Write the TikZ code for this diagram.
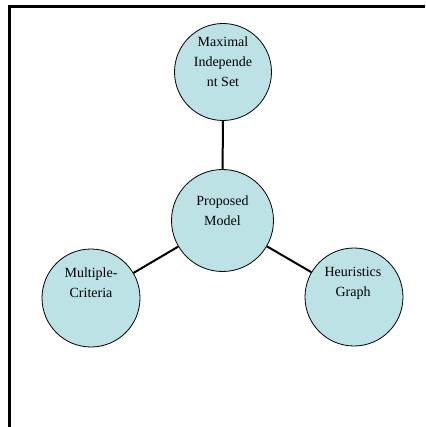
\documentclass[tikz,border=0pt]{standalone}
\usepackage{fontspec}
\setmainfont{Liberation Serif}
\definecolor{bubblefill}{RGB}{188,226,230}
\begin{document}
\begin{tikzpicture}[x=1pt,y=-1pt,
  bubble/.style={circle,draw=black,line width=0.8pt,fill=bubblefill,inner sep=0pt},
  label text/.style={anchor=north,align=center,inner sep=0pt,font=\fontsize{14}{20}\selectfont},
  link/.style={line width=2pt,black},
  frameline/.style={line width=2.5pt,black}]
\useasboundingbox (0,0) rectangle (425,427);
\coordinate (fa) at (9.7,427);
\coordinate (fb) at (9.7,6.3);
\coordinate (fc) at (425,6.3);
\draw[frameline] (fa) -- (fb) -- (fc);
\node[bubble,minimum size=97pt] (mis) at (223,72) {};
\node[bubble,minimum size=102pt] (pm) at (222.5,220.5) {};
\node[bubble,minimum size=98pt] (mc) at (91,298) {};
\node[bubble,minimum size=98pt] (hg) at (354,297) {};
\begin{scope}[on background layer/.try]
\end{scope}
\draw[link] (mis) -- (pm);
\draw[link] (pm) -- (mc);
\draw[link] (pm) -- (hg);
\node[label text] (tmis) at (223,37) {Maximal\\Independe\\nt Set};
\node[label text] (tpm) at (222.5,195.5) {Proposed\\Model};
\node[label text] (tmc) at (91,267.5) {Multiple-\\Criteria};
\node[label text] (thg) at (353,267.5) {Heuristics\\Graph};
\end{tikzpicture}
\end{document}
